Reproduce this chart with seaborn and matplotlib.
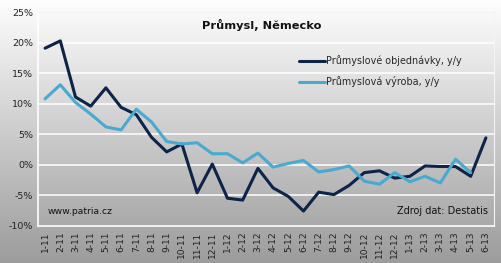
import numpy as np
import pandas as pd
import matplotlib
matplotlib.use("Agg")
import matplotlib.pyplot as plt
import seaborn as sns
from matplotlib.lines import Line2D
from matplotlib.colors import LinearSegmentedColormap

months = ["1-11", "2-11", "3-11", "4-11", "5-11", "6-11", "7-11", "8-11", "9-11", "10-11",
          "11-11", "12-11", "1-12", "2-12", "3-12", "4-12", "5-12", "6-12", "7-12", "8-12",
          "9-12", "10-12", "11-12", "12-12", "1-13", "2-13", "3-13", "4-13", "5-13", "6-13"]
orders = [19.1, 20.3, 11.1, 9.6, 12.6, 9.4, 8.2, 4.5, 2.1, 3.4,
          -4.6, 0.1, -5.5, -5.8, -0.6, -3.8, -5.2, -7.6, -4.5, -4.9,
          -3.4, -1.3, -1.0, -2.2, -1.9, -0.2, -0.3, -0.3, -1.9, 4.4]
production = [10.8, 13.1, 10.2, 8.3, 6.2, 5.7, 9.1, 7.0, 3.8, 3.4,
              3.6, 1.8, 1.8, 0.3, 1.9, -0.4, 0.2, 0.7, -1.2, -0.8,
              -0.2, -2.7, -3.2, -1.3, -2.8, -1.9, -3.0, 0.9, -1.3, np.nan]
series_names = ["Průmyslové objednávky, y/y", "Průmyslová výroba, y/y"]
yticks = [-10, -5, 0, 5, 10, 15, 20, 25]
title = "Průmysl, Německo"

colors = ["#0e2348", "#4aa9d1"]

sns.set_style("white")
plt.rcParams["font.family"] = ["DejaVu Sans"]

df = pd.DataFrame({
    "x": list(range(len(months))) * 2,
    "value": orders + production,
    "series": [series_names[0]] * len(months) + [series_names[1]] * len(months),
}).dropna()

W, H = 501, 263
fig = plt.figure(figsize=(W / 100, H / 100), dpi=100)

# gradient background: white at top, grey at bottom
bg = fig.add_axes([0, 0, 1, 1], zorder=-10)
grad = np.linspace(0.0, 1.0, 256).reshape(-1, 1)
cmap = LinearSegmentedColormap.from_list("g", ["#9c9c9c", "#fefefe"])
bg.imshow(grad, aspect="auto", cmap=cmap, extent=[0, 1, 0, 1], origin="lower")
bg.set_axis_off()

left, right = 37.5 / W, 493.5 / W
bottom, top = 1 - 225.7 / H, 1 - 12.2 / H
ax = fig.add_axes([left, bottom, right - left, top - bottom])
ax.set_facecolor("none")

sns.lineplot(data=df, x="x", y="value", hue="series", palette=colors,
             hue_order=series_names, linewidth=2.2, ax=ax, legend=False,
             estimator=None, sort=False)

ax.set_xlim(-0.5, len(months) - 0.5)
ax.set_ylim(-10, 25)
ax.set_yticks(yticks)
ax.set_yticklabels([f"{v}%" for v in yticks], fontsize=6.8, color="#222222")
ax.set_xticks(range(len(months)))
ax.set_xticklabels(months, rotation=90, fontsize=6.6, color="#222222")
ax.set_xticks(np.arange(-0.5, len(months), 1.0), minor=True)
ax.tick_params(axis="x", which="major", length=0, pad=4)
ax.tick_params(axis="x", which="minor", length=4, width=1, color="white", direction="out")
ax.tick_params(axis="y", length=0, pad=3)
ax.set_xlabel("")
ax.set_ylabel("")

for v in yticks[1:]:
    ax.axhline(v, color="white", linewidth=1.1, zorder=0)

for s in ["top", "right"]:
    ax.spines[s].set_visible(True)
    ax.spines[s].set_color("#f4f4f4")
    ax.spines[s].set_linewidth(0.8)
for s in ["left", "bottom"]:
    ax.spines[s].set_color("white")
    ax.spines[s].set_linewidth(1.2)

fig.text(0.5 + 11 / W, 1 - 25 / H, title, ha="center", va="center", fontsize=8.2,
         fontweight="bold", color="#111111")

handles = [Line2D([0], [0], color=c, linewidth=2.2) for c in colors]
fig.legend(handles, series_names, loc="upper left",
           bbox_to_anchor=(299 / W, 1 - 55 / H), frameon=False,
           fontsize=6.9, handlelength=2.7, handletextpad=0.1,
           labelspacing=1.1, borderpad=0, borderaxespad=0)

fig.text(48 / W, 1 - 212 / H, "www.patria.cz", ha="left", va="center",
         fontsize=6.7, color="#111111")
fig.text(488 / W, 1 - 211 / H, "Zdroj dat: Destatis", ha="right", va="center",
         fontsize=7.0, color="#111111")

fig.savefig("out.png", dpi=100)
